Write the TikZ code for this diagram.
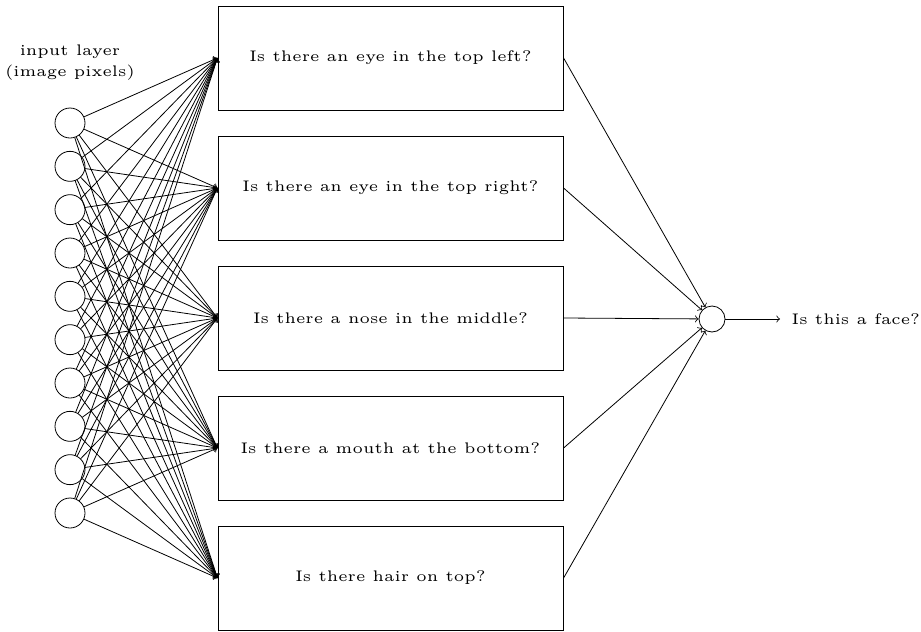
\documentclass[tikz,border=0pt]{standalone}
\usepackage{amsmath}
\usepackage{tikz}
\usetikzlibrary{arrows,shapes}

\begin{document}
\begin{tikzpicture}
    \useasboundingbox (0bp,0bp) rectangle (460.5bp,-316bp);

    \node (label) at (35bp,-31.5bp)[align=center,font=\tiny,scale=1.54] {input layer\\[0.8pt](image pixels)};

    \node (I1) at (35bp,-61.5bp)[draw,circle,minimum size=15bp,inner sep=0pt] {};
    \node (I2) at (35bp,-83.17bp)[draw,circle,minimum size=15bp,inner sep=0pt] {};
    \node (I3) at (35bp,-104.83bp)[draw,circle,minimum size=15bp,inner sep=0pt] {};
    \node (I4) at (35bp,-126.5bp)[draw,circle,minimum size=15bp,inner sep=0pt] {};
    \node (I5) at (35bp,-148.17bp)[draw,circle,minimum size=15bp,inner sep=0pt] {};
    \node (I6) at (35bp,-169.83bp)[draw,circle,minimum size=15bp,inner sep=0pt] {};
    \node (I7) at (35bp,-191.5bp)[draw,circle,minimum size=15bp,inner sep=0pt] {};
    \node (I8) at (35bp,-213.17bp)[draw,circle,minimum size=15bp,inner sep=0pt] {};
    \node (I9) at (35bp,-234.83bp)[draw,circle,minimum size=15bp,inner sep=0pt] {};
    \node (I10) at (35bp,-256.5bp)[draw,circle,minimum size=15bp,inner sep=0pt] {};

    \node (Q1) at (195.25bp,-29bp)[draw,font=\tiny,scale=1.54,minimum width=112bp,minimum height=33.77bp] {Is there an eye in the top left?};
    \node (Q2) at (195.25bp,-94bp)[draw,font=\tiny,scale=1.54,minimum width=112bp,minimum height=33.77bp] {Is there an eye in the top right?};
    \node (Q3) at (195.25bp,-159bp)[draw,font=\tiny,scale=1.54,minimum width=112bp,minimum height=33.77bp] {Is there a nose in the middle?};
    \node (Q4) at (195.25bp,-224bp)[draw,font=\tiny,scale=1.54,minimum width=112bp,minimum height=33.77bp] {Is there a mouth at the bottom?};
    \node (Q5) at (195.25bp,-289bp)[draw,font=\tiny,scale=1.54,minimum width=112bp,minimum height=33.77bp] {Is there hair on top?};

    \node (O) at (356bp,-159.5bp)[draw,circle,minimum size=13bp,inner sep=0pt] {};
    \coordinate (E) at (390bp,-159.5bp);
    \node (A) at (394bp,-159.5bp)[anchor=west,font=\tiny,scale=1.54,inner sep=1pt] {Is this a face?};

    \foreach \i in {1,...,10}
        \foreach \j in {1,...,5}
            \draw [->] (I\i) to (Q\j.west);
    \foreach \j in {1,...,5}
        \draw [->] (Q\j.east) to (O);
    \draw [->] (O) to (E);
\end{tikzpicture}
\end{document}
